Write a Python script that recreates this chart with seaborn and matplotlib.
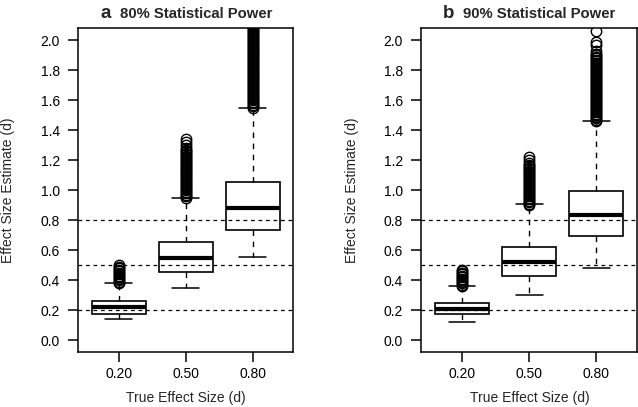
import matplotlib
matplotlib.use("Agg")
import matplotlib.pyplot as plt
import seaborn as sns

# true effect sizes (x categories) and reference lines
true_sizes = ["0.20", "0.50", "0.80"]
ref_lines = [0.2, 0.5, 0.8]

# panel a: 80% statistical power
a_q1 = [0.175, 0.455, 0.731]
a_med = [0.222, 0.547, 0.878]
a_q3 = [0.257, 0.651, 1.055]
a_lo = [0.138, 0.349, 0.555]
a_hi = [0.378, 0.949, 1.549]
a_fl_20 = [0.38, 0.39, 0.40, 0.41, 0.42, 0.43, 0.44, 0.45, 0.46, 0.47, 0.48, 0.49, 0.50]
a_fl_50 = [0.95, 0.96, 0.97, 0.98, 0.99, 1.00, 1.01, 1.02, 1.03, 1.04, 1.05, 1.06,
           1.07, 1.08, 1.09, 1.10, 1.11, 1.12, 1.13, 1.14, 1.15, 1.16, 1.17, 1.18,
           1.19, 1.20, 1.21, 1.22, 1.23, 1.24, 1.25, 1.26, 1.27, 1.28, 1.30, 1.32, 1.34]
a_fl_80 = [1.55, 1.56, 1.57, 1.58, 1.59, 1.60, 1.61, 1.62, 1.63, 1.64, 1.65, 1.66,
           1.67, 1.68, 1.69, 1.70, 1.71, 1.72, 1.73, 1.74, 1.75, 1.76, 1.77, 1.78,
           1.79, 1.80, 1.81, 1.82, 1.83, 1.84, 1.85, 1.86, 1.87, 1.88, 1.89, 1.90,
           1.91, 1.92, 1.93, 1.94, 1.95, 1.96, 1.97, 1.98, 1.99, 2.00, 2.01, 2.02,
           2.03, 2.04, 2.05, 2.06, 2.07, 2.08, 2.09, 2.10]

# panel b: 90% statistical power
b_q1 = [0.172, 0.427, 0.693]
b_med = [0.207, 0.520, 0.834]
b_q3 = [0.244, 0.618, 0.995]
b_lo = [0.120, 0.300, 0.482]
b_hi = [0.358, 0.904, 1.460]
b_fl_20 = [0.36, 0.37, 0.38, 0.39, 0.40, 0.41, 0.42, 0.43, 0.44, 0.45, 0.46, 0.47]
b_fl_50 = [0.90, 0.91, 0.92, 0.93, 0.94, 0.95, 0.96, 0.97, 0.98, 0.99, 1.00, 1.01,
           1.02, 1.03, 1.04, 1.05, 1.06, 1.07, 1.08, 1.09, 1.10, 1.11, 1.12, 1.13,
           1.14, 1.15, 1.16, 1.17, 1.18, 1.20, 1.22]
b_fl_80 = [1.46, 1.47, 1.48, 1.49, 1.50, 1.51, 1.52, 1.53, 1.54, 1.55, 1.56, 1.57,
           1.58, 1.59, 1.60, 1.61, 1.62, 1.63, 1.64, 1.65, 1.66, 1.67, 1.68, 1.69,
           1.70, 1.71, 1.72, 1.73, 1.74, 1.75, 1.76, 1.77, 1.78, 1.79, 1.80, 1.81,
           1.82, 1.83, 1.84, 1.85, 1.86, 1.87, 1.88, 1.89, 1.90, 1.91, 1.93, 1.97,
           1.99, 2.06]

sns.set_theme(style="ticks")
plt.rcParams["font.family"] = ["Liberation Sans", "DejaVu Sans"]
plt.rcParams["axes.edgecolor"] = "black"
plt.rcParams["axes.linewidth"] = 1.1


def draw_panel(ax, q1, med, q3, lo, hi, fliers, letter, title):
    stats = []
    for i in range(len(true_sizes)):
        stats.append(dict(q1=q1[i], med=med[i], q3=q3[i], whislo=lo[i],
                          whishi=hi[i], fliers=fliers[i]))
    ax.bxp(stats, positions=[1, 2, 3], widths=0.8, capwidths=0.4,
           patch_artist=True, manage_ticks=False,
           boxprops=dict(facecolor="white", edgecolor="black", linewidth=1.2),
           medianprops=dict(color="black", linewidth=3, solid_capstyle="butt"),
           whiskerprops=dict(color="black", linewidth=1, linestyle=(0, (4, 4))),
           capprops=dict(color="black", linewidth=1.1),
           flierprops=dict(marker="o", markerfacecolor="none", markeredgecolor="black",
                           markersize=7.5, markeredgewidth=1))
    for y in ref_lines:
        ax.axhline(y, color="black", linewidth=0.9, linestyle=(0, (3, 3)), zorder=5)
    ax.set_xlim(0.39, 3.6)
    ax.set_ylim(-0.08, 2.08)
    ax.set_xticks([1, 2, 3])
    ax.set_xticklabels(true_sizes)
    ax.set_yticks([0.0, 0.2, 0.4, 0.6, 0.8, 1.0, 1.2, 1.4, 1.6, 1.8, 2.0])
    ax.set_yticklabels(["0.0", "0.2", "0.4", "0.6", "0.8", "1.0", "1.2", "1.4",
                        "1.6", "1.8", "2.0"])
    ax.tick_params(axis="both", direction="out", length=7, width=1.1,
                   labelsize=10, colors="black")
    ax.tick_params(axis="y", pad=6)
    ax.tick_params(axis="x", pad=3.5)
    for s in ax.spines.values():
        s.set_visible(True)
    ax.text(0.152, 1.032, letter, transform=ax.transAxes, ha="right", va="baseline",
            fontsize=13.5, fontweight="bold")
    ax.text(0.195, 1.032, title, transform=ax.transAxes, ha="left", va="baseline",
            fontsize=10.7, fontweight="bold")


fig = plt.figure(figsize=(6.38, 4.07), dpi=100)
ax_a = fig.add_axes([0.1223, 0.1351, 0.337, 0.796])
ax_b = fig.add_axes([0.660, 0.1351, 0.3377, 0.796])

draw_panel(ax_a, a_q1, a_med, a_q3, a_lo, a_hi, [a_fl_20, a_fl_50, a_fl_80],
           "a", "80% Statistical Power")
draw_panel(ax_b, b_q1, b_med, b_q3, b_lo, b_hi, [b_fl_20, b_fl_50, b_fl_80],
           "b", "90% Statistical Power")

fig.text(8 / 638, 0.533, "Effect Size Estimate (d)", rotation=90, ha="center",
         va="center", fontsize=10)
fig.text(352 / 638, 0.533, "Effect Size Estimate (d)", rotation=90, ha="center",
         va="center", fontsize=10)
fig.text(186 / 638, 0.023, "True Effect Size (d)", ha="center", va="center", fontsize=10)
fig.text(530 / 638, 0.023, "True Effect Size (d)", ha="center", va="center", fontsize=10)

fig.savefig("out.png", dpi=100)
